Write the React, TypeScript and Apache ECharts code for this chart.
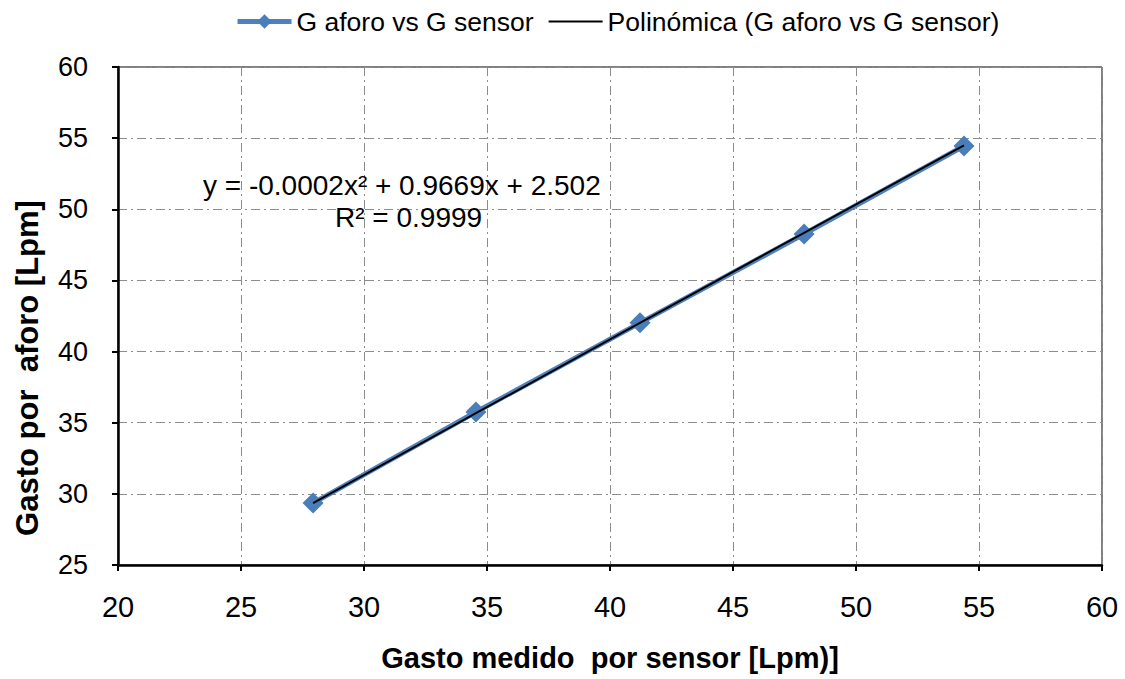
import React, { useEffect, useRef } from "react";
import * as echarts from "echarts";

const sensorX = [27.93, 34.55, 41.22, 47.89, 54.39];
const aforoY = [29.35, 35.75, 42.02, 48.26, 54.45];
const trendX = [27.93, 34.55, 41.22, 47.89, 54.39];
const trendY = [29.35, 35.67, 42.02, 48.35, 54.5];
const seriesNames = ["G aforo vs G sensor", "Polinómica (G aforo vs G sensor)"];
const xTitle = "Gasto medido  por sensor [Lpm)]";
const yTitle = "Gasto por  aforo [Lpm]";
const eqLine1 = "y = -0.0002x² + 0.9669x + 2.502";
const eqLine2 = "R² = 0.9999";

const FONT = "'Liberation Sans', Arial, sans-serif";

export default function App() {
  const ref = useRef<HTMLDivElement>(null);
  useEffect(() => {
    if (!ref.current) return;
    const chart = echarts.init(ref.current, null, { renderer: "svg" });
    const gridLine = { show: true, lineStyle: { color: "#8c8c8c", width: 1, type: [9, 4, 2, 4] } };
    chart.setOption({
      animation: false,
      backgroundColor: "#ffffff",
      textStyle: { fontFamily: FONT },
      legend: {
        top: 3,
        left: 230,
        itemGap: 14,
        itemWidth: 54,
        itemHeight: 18,
        textStyle: { fontSize: 26.5, color: "#000", fontFamily: FONT },
        data: [
          { name: seriesNames[0], lineStyle: { width: 5, color: "#4F81BD" }, itemStyle: { color: "#4A7EBB" } },
          { name: seriesNames[1], lineStyle: { width: 2, color: "#000" }, itemStyle: { opacity: 0 } },
        ],
      },
      grid: {
        left: 118,
        right: 23,
        top: 67,
        bottom: 114,
        show: true,
        borderColor: "#000",
        borderWidth: 1,
      },
      xAxis: {
        type: "value",
        min: 20,
        max: 60,
        interval: 5,
        name: xTitle,
        nameLocation: "middle",
        nameGap: 78,
        nameTextStyle: { fontSize: 29, fontWeight: "bold", color: "#000", fontFamily: FONT },
        axisLine: { show: true, onZero: false, lineStyle: { color: "#000", width: 2.5 } },
        axisTick: { show: true, inside: false, length: 6, lineStyle: { color: "#000", width: 2 } },
        axisLabel: { fontSize: 29, color: "#000", margin: 27, fontFamily: FONT },
        splitLine: gridLine,
      },
      yAxis: {
        type: "value",
        min: 25,
        max: 60,
        interval: 5,
        axisLine: { show: true, onZero: false, lineStyle: { color: "#000", width: 2.5 } },
        axisTick: { show: true, inside: false, length: 6, lineStyle: { color: "#000", width: 2 } },
        axisLabel: { fontSize: 27, color: "#000", margin: 30, fontFamily: FONT },
        splitLine: gridLine,
      },
      series: [
        {
          name: seriesNames[0],
          type: "line",
          data: sensorX.map((x, i) => [x, aforoY[i]]),
          symbol: "diamond",
          symbolSize: 21,
          lineStyle: { color: "#4F81BD", width: 5 },
          itemStyle: { color: "#4A7EBB" },
          z: 2,
        },
        {
          name: seriesNames[1],
          type: "line",
          data: trendX.map((x, i) => [x, trendY[i]]),
          symbol: "none",
          lineStyle: { color: "#000", width: 2 },
          itemStyle: { color: "#000" },
          z: 3,
        },
      ],
      graphic: [
        {
          type: "text",
          x: 27,
          y: 368,
          rotation: Math.PI / 2,
          style: {
            text: yTitle,
            fontSize: 31,
            fontWeight: "bold",
            fill: "#000",
            fontFamily: FONT,
            align: "center",
            verticalAlign: "middle",
          },
          z: 10,
        },
        {
          type: "text",
          left: 203,
          top: 171,
          style: { text: eqLine1, fontSize: 28, fill: "#000", fontFamily: FONT },
          z: 10,
        },
        {
          type: "text",
          left: 335,
          top: 203,
          style: { text: eqLine2, fontSize: 28, fill: "#000", fontFamily: FONT },
          z: 10,
        },
      ],
    });
    return () => chart.dispose();
  }, []);
  return (
    <div
      ref={ref}
      style={{ position: "absolute", left: 0, top: 0, width: 1125, height: 679 }}
    />
  );
}
